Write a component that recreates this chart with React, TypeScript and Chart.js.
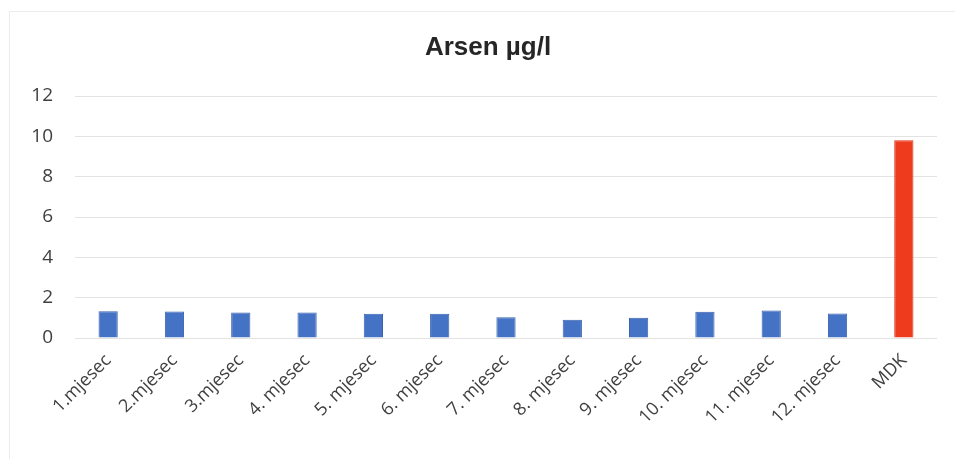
import React, { useEffect, useRef } from "react";
import { Chart, registerables } from "chart.js";

Chart.register(...registerables);

const categories = [
  "1.mjesec", "2.mjesec", "3.mjesec", "4. mjesec", "5. mjesec", "6. mjesec",
  "7. mjesec", "8. mjesec", "9. mjesec", "10. mjesec", "11. mjesec", "12. mjesec", "MDK",
];
const values = [1.33, 1.32, 1.27, 1.27, 1.2, 1.2, 1.03, 0.9, 1.0, 1.3, 1.36, 1.22, 9.8];
const barColors = [
  "#4472C4", "#4472C4", "#4472C4", "#4472C4", "#4472C4", "#4472C4",
  "#4472C4", "#4472C4", "#4472C4", "#4472C4", "#4472C4", "#4472C4", "#EE3B1E",
];
const yTicks = [0, 2, 4, 6, 8, 10, 12];
const titleText = "Arsen µg/l";

const framePlugin = {
  id: "frame",
  beforeDraw(chart: any) {
    const ctx = chart.ctx;
    ctx.save();
    ctx.fillStyle = "#ffffff";
    ctx.fillRect(0, 0, chart.width, chart.height);
    ctx.strokeStyle = "#ececec";
    ctx.lineWidth = 1;
    ctx.strokeRect(9.5, 11.5, chart.width, chart.height);
    ctx.restore();
  },
  afterDraw(chart: any) {
    const ctx = chart.ctx;
    ctx.save();
    ctx.fillStyle = "#262626";
    ctx.font = "bold 26px 'Liberation Sans', Arial, sans-serif";
    ctx.textAlign = "center";
    ctx.textBaseline = "middle";
    ctx.fillText(titleText, 488, 48);
    ctx.restore();
  },
};

export default function App() {
  const ref = useRef<HTMLCanvasElement | null>(null);
  useEffect(() => {
    document.body.style.margin = "0";
    const canvas = ref.current!;
    const chart = new Chart(canvas, {
      type: "bar",
      data: {
        labels: categories,
        datasets: [
          {
            data: values,
            backgroundColor: barColors,
            borderColor: barColors.map((c) => (c === "#4472C4" ? "#3A62AE" : "#D83418")),
            borderWidth: 1,
            barPercentage: 0.29,
            categoryPercentage: 1,
          },
        ],
      },
      plugins: [framePlugin],
      options: {
        animation: false,
        responsive: false,
        layout: { padding: { left: 0, right: 18, top: 96, bottom: 0 } },
        plugins: {
          legend: { display: false },
          tooltip: { enabled: false },
          title: { display: false },
        },
        scales: {
          x: {
            grid: { display: false },
            border: { display: false },
            ticks: {
              color: "#404040",
              font: { family: "Open Sans, sans-serif", size: 18 },
              maxRotation: 45,
              minRotation: 45,
              autoSkip: false,
              padding: 4,
            },
            afterFit(scale: any) {
              scale.height = 121;
            },
          },
          y: {
            min: 0,
            max: 12,
            afterBuildTicks(scale: any) {
              scale.ticks = yTicks.map((v) => ({ value: v }));
            },
            grid: { color: "#e3e3e3", drawTicks: false },
            border: { display: false },
            ticks: {
              color: "#404040",
              font: { family: "Open Sans, sans-serif", size: 19 },
              padding: 22,
            },
            afterFit(scale: any) {
              scale.width = 75;
            },
          },
        },
      },
    });
    return () => chart.destroy();
  }, []);
  return <canvas ref={ref} width={955} height={459} style={{ display: "block" }} />;
}
